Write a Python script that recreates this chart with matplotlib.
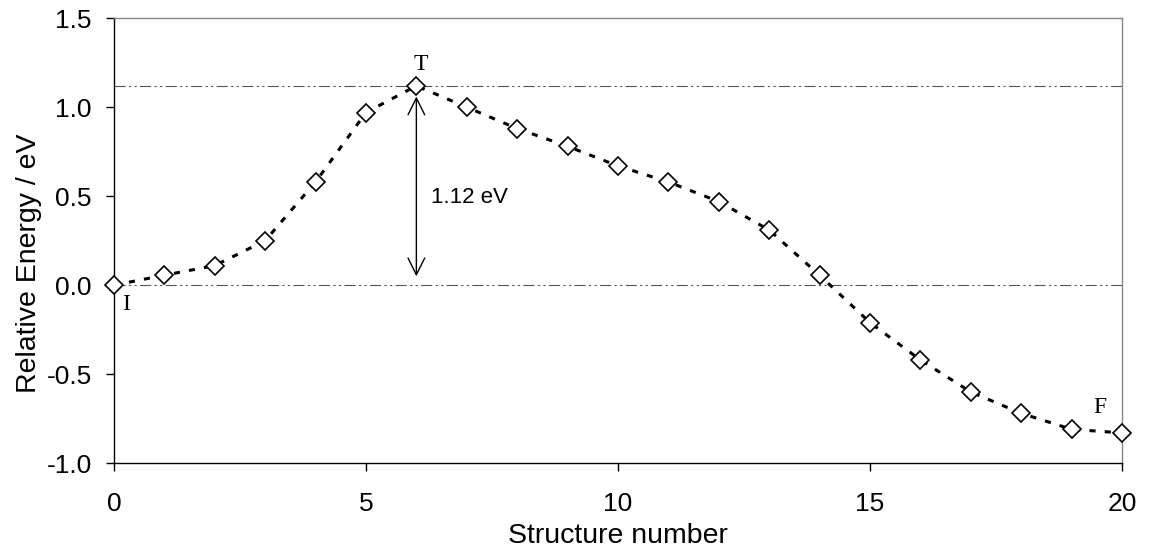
# profil relativnej energie pozdlz reakcnej cesty
import numpy as np
import matplotlib
matplotlib.use("Agg")
import matplotlib.pyplot as plt

structure = list(range(21))
energy = [0.00, 0.056, 0.11, 0.25, 0.58, 0.97, 1.12, 1.00, 0.88, 0.78, 0.67,
          0.58, 0.47, 0.31, 0.056, -0.21, -0.42, -0.60, -0.72, -0.81, -0.83]
barrier = 1.12
x_ticks = [0, 5, 10, 15, 20]
y_ticks = [-1.0, -0.5, 0.0, 0.5, 1.0, 1.5]

plt.rcParams["font.family"] = ["Liberation Sans", "DejaVu Sans"]

fig = plt.figure(figsize=(11.57, 5.52), dpi=100)
ax = fig.add_axes([0.0985, 0.161, 0.8712, 0.806])

# referencne hladiny
dashdotdot = (0, (10, 3, 2, 3, 2, 3))
ax.axhline(0.0, color="#555555", lw=0.8, linestyle=dashdotdot, zorder=1)
ax.axhline(barrier, color="#555555", lw=0.8, linestyle=dashdotdot, zorder=1)

ax.plot(structure, energy, color="black", lw=2.2, linestyle=(0, (2, 3)),
        marker="D", markersize=9.5, markerfacecolor="white",
        markeredgecolor="black", markeredgewidth=1.2, zorder=3, clip_on=False)

# sipka bariery
ax.annotate("", xy=(6, 0.05), xytext=(6, 1.06),
            arrowprops=dict(arrowstyle="<->,head_length=1.2,head_width=0.6",
                            color="black", lw=1.0, shrinkA=0, shrinkB=0))
ax.text(6.3, 0.49, f"{barrier:.2f} eV", fontsize=16, va="center", ha="left")

serif = ["Liberation Serif", "DejaVu Serif"]
ax.text(6.08, 1.21, "T", family=serif, fontsize=17, ha="center", va="baseline")
ax.text(0.16, -0.05, "I", family=serif, fontsize=17, ha="left", va="top")
ax.text(19.56, -0.72, "F", family=serif, fontsize=17, ha="center", va="baseline")

ax.set_xlim(0, 20)
ax.set_ylim(-1.0, 1.5)
ax.set_xticks(x_ticks)
ax.set_yticks(y_ticks)
ax.set_yticklabels([f"{v:.1f}" for v in y_ticks])
ax.tick_params(axis="both", direction="out", length=6, width=1, labelsize=19)
ax.tick_params(axis="x", pad=15)
ax.tick_params(axis="y", pad=10)
ax.set_xlabel("Structure number", fontsize=20.5, labelpad=5)
ax.set_ylabel("Relative Energy / eV", fontsize=20.5)
ax.yaxis.set_label_coords(-0.071, 0.449)

for side in ["top", "right"]:
    ax.spines[side].set_color("#888888")
    ax.spines[side].set_linewidth(1.0)
for side in ["left", "bottom"]:
    ax.spines[side].set_color("black")
    ax.spines[side].set_linewidth(1.0)

fig.savefig("out.png", dpi=100)
